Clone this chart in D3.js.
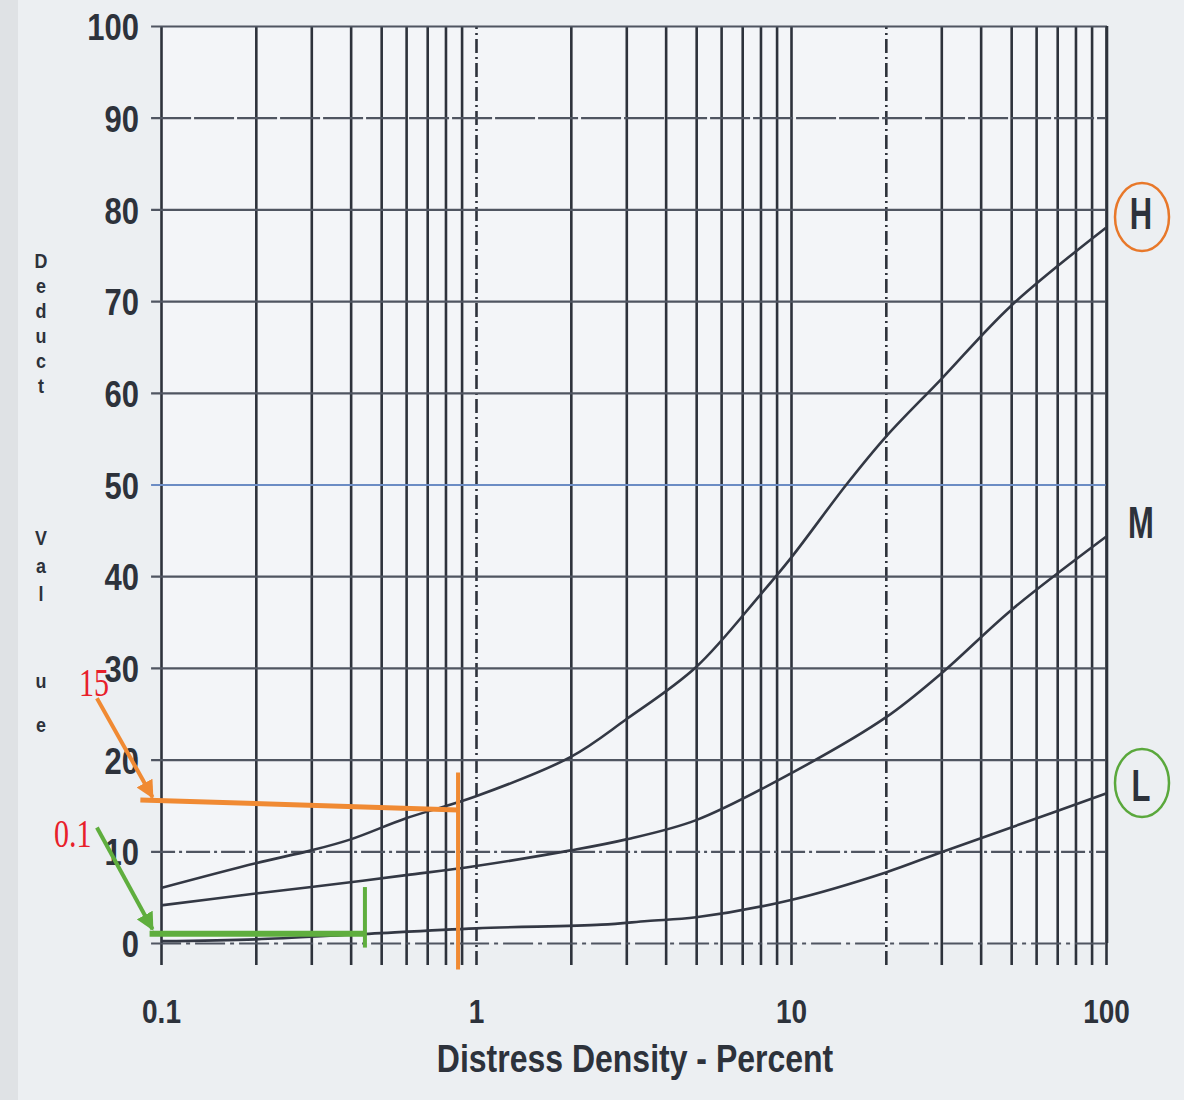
<!DOCTYPE html>
<html>
<head>
<meta charset="utf-8">
<script src="https://cdn.jsdelivr.net/npm/d3@7"></script>
<style>
  body { margin: 0; background: #eceff2; }
  svg { display: block; }
</style>
</head>
<body>
<div id="chart"></div>
<script>
// ---- data ----
var yTicks = [0, 10, 20, 30, 40, 50, 60, 70, 80, 90, 100];
var xLabels = [0.1, 1, 10, 100];
var xLabelText = ["0.1", "1", "10", "100"];

var highDensity = [0.1, 0.2, 0.3, 0.4, 0.6, 1, 2, 3, 5, 8, 10, 15, 20, 30, 50, 100];
var highDeduct  = [6, 8.7, 10.1, 11.3, 13.6, 16, 20.3, 24.4, 30.1, 38, 42, 50, 55.2, 61.5, 69.5, 78];

var medDensity = [0.1, 0.2, 0.3, 0.6, 1, 2, 3, 5, 10, 20, 30, 50, 100];
var medDeduct  = [4.1, 5.4, 6.1, 7.4, 8.4, 10.1, 11.3, 13.4, 18.5, 24.6, 29.4, 36.3, 44.3];

var lowDensity = [0.1, 0.2, 0.4, 1, 2.5, 3.5, 5, 10, 20, 30, 50, 100];
var lowDeduct  = [0.2, 0.4, 0.9, 1.6, 2.0, 2.4, 2.8, 4.7, 7.7, 9.9, 12.6, 16.3];

var curveNames = ["H", "M", "L"];

// reading marks drawn on top of the chart
var orangeReading = [[0.086, 15.6], [0.877, 14.5]];
var orangeDrop = [[0.877, 18.6], [0.877, -2.9]];
var orangeArrow = [[0.0626, 26.7], [0.094, 15.9]];
var greenReading = [[0.092, 1.0], [0.444, 1.0]];
var greenDrop = [[0.444, 6.1], [0.444, -0.5]];
var greenArrow = [[0.0626, 12.6], [0.094, 1.5]];

// ---- layout ----
var svgWidth = 1184;
var svgHeight = 1100;

var x = d3.scaleLog().domain([0.1, 100]).range([161, 1106]);
var y = d3.scaleLinear().domain([0, 100]).range([943, 26]);

var ink = "#2d323b";
var font = "'Liberation Sans', Arial, sans-serif";

var svg = d3.select("#chart")
    .append("svg")
    .attr("width", svgWidth)
    .attr("height", svgHeight);

var defs = svg.append("defs");
function arrowMarker(id, color) {
    defs.append("marker")
        .attr("id", id)
        .attr("viewBox", "0 0 10 10")
        .attr("refX", 9).attr("refY", 5)
        .attr("markerWidth", 4.5).attr("markerHeight", 4.5)
        .attr("orient", "auto")
        .append("path")
        .attr("d", "M0,0 L10,5 L0,10 Z")
        .attr("fill", color);
}
arrowMarker("arrOrange", "#f08a33");
arrowMarker("arrGreen", "#5fae3e");

// paper
svg.append("rect").attr("width", svgWidth).attr("height", svgHeight).attr("fill", "#eceff2");
svg.append("rect").attr("width", 18).attr("height", svgHeight).attr("fill", "#dfe2e5");
svg.append("rect")
    .attr("x", x(0.1)).attr("y", y(100))
    .attr("width", x(100) - x(0.1)).attr("height", y(0) - y(100))
    .attr("fill", "#f3f5f8");

// ---- grid: vertical lines from a bottom axis ----
var gridVals = [];
[0.1, 1, 10].forEach(function (dec) {
    for (var k = 1; k <= 9; k++) gridVals.push(+(k * dec).toPrecision(3));
});
gridVals.push(100);

var bottomY = y(-2.4);
var vGrid = svg.append("g")
    .attr("transform", "translate(0," + bottomY + ")")
    .call(d3.axisBottom(x).tickValues(gridVals).tickSize(-(bottomY - y(100))).tickFormat(""));
vGrid.select(".domain").remove();
vGrid.selectAll(".tick line")
    .attr("stroke", ink)
    .attr("stroke-width", 2.6)
    .attr("stroke-dasharray", function (d) { return (d === 1 || d === 20) ? "14,4,2,4" : null; });

// ---- grid: horizontal lines from a left axis ----
var leftX = x(0.093);
var hGrid = svg.append("g")
    .attr("transform", "translate(" + leftX + ",0)")
    .call(d3.axisLeft(y).tickValues(yTicks).tickSize(-(x(100) + 1 - leftX)).tickFormat(""));
hGrid.select(".domain").remove();
hGrid.selectAll(".tick line")
    .attr("stroke", function (d) { return d === 50 ? "#6b8cc4" : "#4f5561"; })
    .attr("stroke-width", 2.2)
    .attr("stroke-dasharray", function (d) {
        if (d === 0) return "30,5,4,5";
        if (d === 10) return "24,4,3,4";
        if (d === 90) return "40,3";
        return null;
    });

// right border
svg.append("line")
    .attr("x1", x(100) + 1).attr("x2", x(100) + 1)
    .attr("y1", y(100)).attr("y2", y(0))
    .attr("stroke", ink).attr("stroke-width", 2.6);

// ---- tick labels ----
var yLab = svg.append("g")
    .attr("transform", "translate(" + (leftX + 1) + ",0)")
    .call(d3.axisLeft(y).tickValues(yTicks).tickSize(0).tickPadding(13));
yLab.select(".domain").remove();
yLab.selectAll(".tick text")
    .attr("fill", ink)
    .attr("font-family", font)
    .attr("font-weight", "bold")
    .attr("font-size", 31)
    .attr("dy", "0.36em")
    .attr("transform", "scale(1,1.22)");

var xLab = svg.append("g")
    .attr("transform", "translate(0," + y(0) + ")")
    .call(d3.axisBottom(x).tickValues(xLabels).tickSize(0)
        .tickFormat(function (d, i) { return xLabelText[i]; }));
xLab.select(".domain").remove();
xLab.selectAll(".tick text")
    .attr("fill", ink)
    .attr("font-family", font)
    .attr("font-weight", "bold")
    .attr("font-size", 28)
    .attr("dy", 0)
    .attr("y", 80 / 1.18)
    .attr("transform", "scale(1,1.18)");

// axis titles
function stretchedText(tx, ty, str, size, sy, anchor) {
    return svg.append("text")
        .attr("transform", "translate(" + tx + "," + ty + ") scale(1," + sy + ")")
        .attr("text-anchor", anchor || "middle")
        .attr("font-family", font)
        .attr("font-weight", "bold")
        .attr("font-size", size)
        .attr("fill", ink)
        .text(str);
}
stretchedText(635, 1072, "Distress Density - Percent", 32, 1.2);

// vertical "Deduct Value", one upright letter per row
var yTitle = ["D", "e", "d", "u", "c", "t", "V", "a", "l", "u", "e"];
var yTitlePos = [260, 285, 310, 335, 360, 385, 537, 565, 593, 680, 724];
var titleScale = 1.3;
var yt = svg.append("text")
    .attr("transform", "translate(41,0) scale(1.12," + titleScale + ")")
    .attr("text-anchor", "middle")
    .attr("font-family", font)
    .attr("font-weight", "bold")
    .attr("font-size", 16)
    .attr("fill", ink);
yt.selectAll("tspan")
    .data(yTitle)
    .enter()
    .append("tspan")
    .attr("x", 0)
    .attr("y", function (d, i) { return (yTitlePos[i] + 8) / titleScale; })
    .text(function (d) { return d; });

// ---- curves ----
var line = d3.line()
    .x(function (d) { return x(d[0]); })
    .y(function (d) { return y(d[1]); })
    .curve(d3.curveCatmullRom.alpha(0.5));

var series = [
    d3.zip(highDensity, highDeduct),
    d3.zip(medDensity, medDeduct),
    d3.zip(lowDensity, lowDeduct)
];
svg.selectAll(".curve")
    .data(series)
    .enter()
    .append("path")
    .attr("class", "curve")
    .attr("d", line)
    .attr("fill", "none")
    .attr("stroke", "#333844")
    .attr("stroke-width", 2.6);

// curve names at right
var nameY = [213, 522, 785];
curveNames.forEach(function (n, i) {
    stretchedText(1141, nameY[i] + 16, n, 31, 1.45);
});
svg.append("ellipse")
    .attr("cx", 1142).attr("cy", 217).attr("rx", 27).attr("ry", 34)
    .attr("fill", "none").attr("stroke", "#e8782a").attr("stroke-width", 2.5);
svg.append("ellipse")
    .attr("cx", 1142).attr("cy", 783).attr("rx", 27).attr("ry", 34)
    .attr("fill", "none").attr("stroke", "#5aa83c").attr("stroke-width", 2.5);

// ---- reading annotations ----
var mark = d3.line()
    .x(function (d) { return x(d[0]); })
    .y(function (d) { return y(d[1]); });

function markLine(pts, color, w, marker) {
    var p = svg.append("path")
        .attr("d", mark(pts))
        .attr("fill", "none")
        .attr("stroke", color)
        .attr("stroke-width", w);
    if (marker) p.attr("marker-end", "url(#" + marker + ")");
}
markLine(orangeReading, "#f08a33", 5);
markLine(orangeDrop, "#f08a33", 4);
markLine(orangeArrow, "#f08a33", 4, "arrOrange");
markLine(greenReading, "#5fae3e", 6);
markLine(greenDrop, "#5fae3e", 4);
markLine(greenArrow, "#5fae3e", 4, "arrGreen");

svg.append("text")
    .attr("transform", "translate(79,696) scale(1,1.35)")
    .attr("font-family", "'Liberation Serif', serif")
    .attr("font-size", 30)
    .attr("fill", "#e8202a")
    .text("15");
svg.append("text")
    .attr("transform", "translate(54,847) scale(1,1.35)")
    .attr("font-family", "'Liberation Serif', serif")
    .attr("font-size", 30)
    .attr("fill", "#e8202a")
    .text("0.1");
</script>
</body>
</html>
